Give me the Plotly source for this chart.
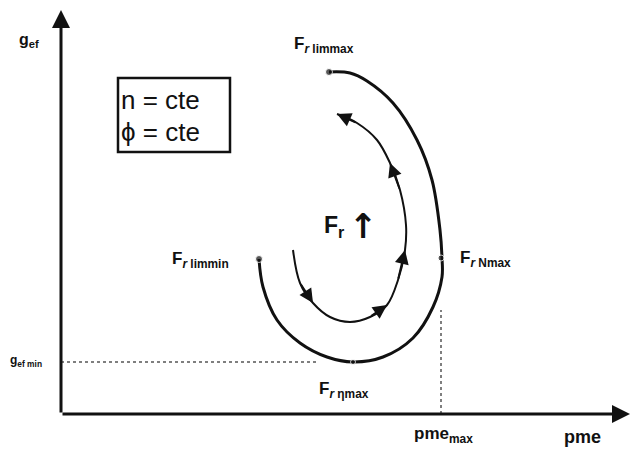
import plotly.graph_objects as go

# Outer operating curve (pme, g_ef), from F_r limmin round to F_r limmax
outer_pme = [198, 202, 216, 239, 266, 292, 322, 352, 372, 381, 381, 379, 371, 356, 332, 306, 289, 268]
outer_gef = [155, 127, 94, 71, 57, 52, 57, 76, 107, 137, 156, 184, 234, 274, 311, 333, 341, 342]

# Inner curve showing the direction of increasing F_r
inner_pme = [232, 239, 252, 269, 289, 309, 326, 337, 344, 345, 339, 329, 316, 296, 276]
inner_gef = [164, 131, 111, 97, 92, 97, 109, 134, 164, 189, 224, 251, 274, 291, 300]
inner_arrow_idx = [2, 6, 8, 11, 14]

# Marked points on the outer curve
point_names = ["limmin", "etamax", "Nmax", "limmax"]
point_pme = [198, 292, 380, 268]
point_gef = [155, 52, 156, 342]

# Axis extents and reference levels
axis_pme_end = 569
axis_gef_end = 404
gef_min = 52
pme_max = 380
gef_min_line_end = 256
pme_max_line_top = 104

FONT = "Liberation Sans, Arial, sans-serif"
INK = "#111111"

fig = go.Figure()

fig.add_trace(go.Scatter(x=outer_pme, y=outer_gef, mode="lines",
                         line=dict(color=INK, width=3, shape="spline"),
                         hoverinfo="skip"))
fig.add_trace(go.Scatter(x=inner_pme, y=inner_gef, mode="lines",
                         line=dict(color=INK, width=2, shape="spline"),
                         hoverinfo="skip"))
fig.add_trace(go.Scatter(x=point_pme, y=point_gef, mode="markers",
                         marker=dict(color=INK, size=[7, 5, 6, 7]),
                         hoverinfo="skip"))

# Reference lines for g_ef min and pme max
fig.add_trace(go.Scatter(x=[0, gef_min_line_end], y=[gef_min, gef_min], mode="lines",
                         line=dict(color="#555555", width=1.5, dash="dot"),
                         hoverinfo="skip"))
fig.add_trace(go.Scatter(x=[pme_max, pme_max], y=[0, pme_max_line_top], mode="lines",
                         line=dict(color="#555555", width=1.5, dash="dot"),
                         hoverinfo="skip"))

annotations = []

# Axes drawn as arrows
annotations.append(dict(x=axis_pme_end, y=0, ax=0, ay=0, xref="x", yref="y",
                        axref="x", ayref="y", showarrow=True, arrowhead=2,
                        arrowsize=1.2, arrowwidth=3, arrowcolor=INK, text=""))
annotations.append(dict(x=0, y=axis_gef_end, ax=0, ay=0, xref="x", yref="y",
                        axref="x", ayref="y", showarrow=True, arrowhead=2,
                        arrowsize=1.2, arrowwidth=3, arrowcolor=INK, text=""))

# Direction arrowheads along the inner curve
for i in inner_arrow_idx:
    annotations.append(dict(x=inner_pme[i], y=inner_gef[i],
                            ax=inner_pme[i - 1], ay=inner_gef[i - 1],
                            xref="x", yref="y", axref="x", ayref="y",
                            showarrow=True, arrowhead=2, arrowsize=1.4,
                            arrowwidth=2, arrowcolor=INK, text=""))


def label(text, x, y, size, anchor="left", family=FONT):
    annotations.append(dict(x=x, y=y, xref="x", yref="y", text=text,
                            showarrow=False, xanchor=anchor, yanchor="middle",
                            font=dict(family=family, size=size, color=INK)))


label("<b>g<sub>ef</sub></b>", -44, 374, 16)
label("<b>g<sub>ef min</sub></b>", -53, 53, 12)
label("<b>pme<sub>max</sub></b>", 351, -21, 17)
label("<b>pme</b>", 501, -23, 18)
label("<b>F<sub><i>r</i> limmax</sub></b>", 231, 369, 17)
label("<b>F<sub><i>r</i> limmin</sub></b>", 109, 154, 17)
label("<b>F<sub><i>r</i> Nmax</sub></b>", 397, 155, 17)
label("<b>F<sub><i>r</i> ηmax</sub></b>", 256, 24, 17)
label("<b>F<sub>r</sub></b>", 261, 188, 23)
label("<b>↑</b>", 286, 188, 34, family="DejaVu Sans, sans-serif")
label("n = cte", 58, 314, 26)
label("ϕ = cte", 58, 282, 26)

fig.add_shape(type="rect", x0=57, x1=169, y0=262, y1=336, xref="x", yref="y",
              line=dict(color=INK, width=2.5))

fig.update_layout(
    width=632, height=450,
    margin=dict(l=0, r=0, t=0, b=0),
    paper_bgcolor="white", plot_bgcolor="white",
    showlegend=False,
    annotations=annotations,
    xaxis=dict(range=[-61, 571], visible=False, fixedrange=True),
    yaxis=dict(range=[-36, 414], visible=False, fixedrange=True),
)

fig.write_html("out.html")
